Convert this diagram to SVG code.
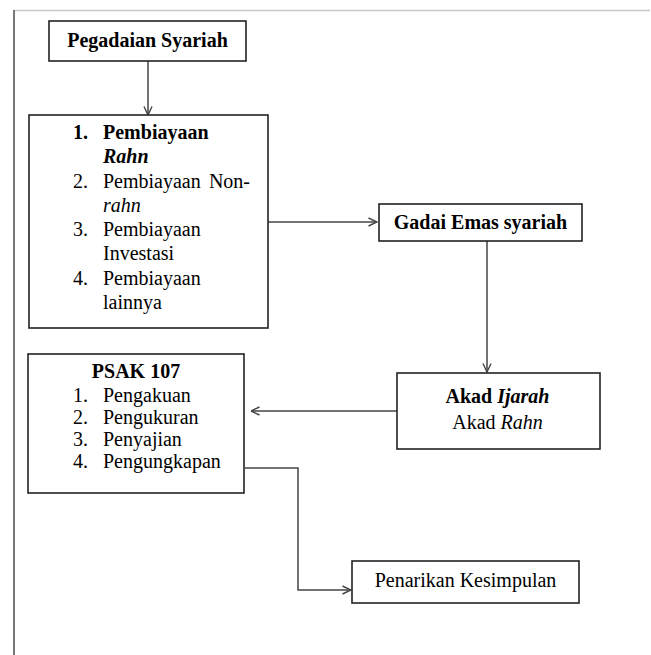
<svg xmlns="http://www.w3.org/2000/svg" width="651" height="655" viewBox="0 0 651 655">
<defs>
<style>
.box{fill:#fff;stroke:#222;stroke-width:1.6}
.c{fill:none;stroke:#444;stroke-width:1.5}
text{font-family:"Liberation Serif","Times New Roman",serif;font-size:20px;fill:#000}
.b{font-weight:bold}
.i{font-style:italic}
.m{text-anchor:middle}
</style>
<marker id="ah" viewBox="0 0 10 10" refX="9.5" refY="5" markerWidth="10" markerHeight="10" markerUnits="userSpaceOnUse" orient="auto">
<path d="M1,1 L9.5,5 L1,9" fill="none" stroke="#444" stroke-width="1.4"/>
</marker>
</defs>
<rect width="651" height="655" fill="#fff"/>
<g id="frame">
<line x1="14" y1="10.5" x2="650" y2="10.5" stroke="#c8c8c8" stroke-width="1.5"/>
<line x1="14" y1="10" x2="14" y2="655" stroke="#777" stroke-width="2"/>
</g>
<g id="connectors">
<line class="c" x1="148" y1="61" x2="148" y2="115" marker-end="url(#ah)"/>
<line class="c" x1="268" y1="222" x2="377" y2="222" marker-end="url(#ah)"/>
<line class="c" x1="487" y1="241" x2="487" y2="372" marker-end="url(#ah)"/>
<line class="c" x1="397" y1="411" x2="251" y2="411" marker-end="url(#ah)"/>
<polyline class="c" points="245,468 298,468 298,590 351,590" marker-end="url(#ah)"/>
</g>
<g id="pegadaian">
<rect class="box" x="49" y="21" width="197" height="40"/>
<text class="b m" x="147.5" y="47">Pegadaian Syariah</text>
</g>
<g id="pembiayaan">
<rect class="box" x="29" y="115" width="239" height="213"/>
<text class="b" x="73" y="139">1.</text>
<text class="b" x="103" y="139">Pembiayaan</text>
<text class="b i" x="103" y="163">Rahn</text>
<text x="73" y="187.5">2.</text>
<text x="103" y="187.5">Pembiayaan</text>
<text x="250" y="187.5" text-anchor="end">Non-</text>
<text class="i" x="103" y="211.5">rahn</text>
<text x="73" y="236">3.</text>
<text x="103" y="236">Pembiayaan</text>
<text x="103" y="260">Investasi</text>
<text x="73" y="284.5">4.</text>
<text x="103" y="284.5">Pembiayaan</text>
<text x="103" y="308.5">lainnya</text>
</g>
<g id="gadai">
<rect class="box" x="379" y="204" width="203" height="37"/>
<text class="b m" x="480.5" y="229">Gadai Emas syariah</text>
</g>
<g id="akad">
<rect class="box" x="397" y="373" width="203" height="76"/>
<text class="m" x="497.5" y="403"><tspan class="b">Akad </tspan><tspan class="b i">Ijarah</tspan></text>
<text class="m" x="497.5" y="429">Akad <tspan class="i">Rahn</tspan></text>
</g>
<g id="psak">
<rect class="box" x="28" y="354" width="216" height="139"/>
<text class="b m" x="136" y="378">PSAK 107</text>
<text x="73" y="402">1.</text>
<text x="103" y="402">Pengakuan</text>
<text x="73" y="424">2.</text>
<text x="103" y="424">Pengukuran</text>
<text x="73" y="446">3.</text>
<text x="103" y="446">Penyajian</text>
<text x="73" y="468">4.</text>
<text x="103" y="468">Pengungkapan</text>
</g>
<g id="penarikan">
<rect class="box" x="352" y="561" width="227" height="42"/>
<text class="m" x="465.5" y="587">Penarikan Kesimpulan</text>
</g>
</svg>
